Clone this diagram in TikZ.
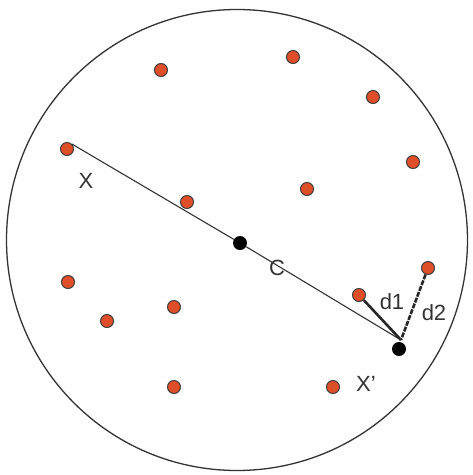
\documentclass[tikz,border=0pt]{standalone}
\usepackage{fontspec}
\setmainfont{Liberation Sans}
\begin{document}
\begin{tikzpicture}[x=1pt,y=-1pt,
  pt/.style={circle,draw=black!75,line width=1pt,fill={rgb,255:red,222;green,78;blue,40},inner sep=0pt,minimum size=13pt},
  bk/.style={circle,fill=black,inner sep=0pt,minimum size=14pt},
  lbl/.style={font=\fontsize{22}{24}\selectfont,text=black!80,inner sep=0pt},
  thin/.style={draw=black!80,line width=1.1pt},
  thick2/.style={draw=black!85,line width=2.6pt}]
\useasboundingbox (0,0) rectangle (473,475);
\node[circle,draw=black!80,line width=1.3pt,minimum size=461pt,inner sep=0pt] (border) at (237,240) {};
\node[pt] (p1) at (161,70) {};
\node[pt] (p2) at (293,57) {};
\node[pt] (p3) at (373,97) {};
\node[pt] (x) at (67,149) {};
\node[pt] (p5) at (413,162) {};
\node[pt] (p6) at (307,189) {};
\node[pt] (p7) at (187,202) {};
\node[pt] (q2) at (428,268) {};
\node[pt] (q1) at (359,295) {};
\node[pt] (p10) at (68,282) {};
\node[pt] (p11) at (107,321) {};
\node[pt] (p12) at (174,307) {};
\node[pt] (p13) at (174,387) {};
\node[pt] (p14) at (333,387) {};
\node[bk] (c) at (240,243) {};
\node[bk] (xp) at (399,349) {};
\coordinate (meet) at (401,340);
\node[lbl] (lx) at (86,181) {X};
\node[lbl] (lc) at (277,268) {C};
\node[lbl] (ld1) at (392,302) {d1};
\node[lbl] (ld2) at (434,313) {d2};
\node[lbl] (lxp) at (366,384) {X'};
\draw[thin] (x.north east) -- (c) -- (meet);
\draw[thick2] (q1) -- (meet);
\draw[thick2,dash pattern=on 5pt off 1.2pt] (q2) -- (meet);
\end{tikzpicture}
\end{document}
